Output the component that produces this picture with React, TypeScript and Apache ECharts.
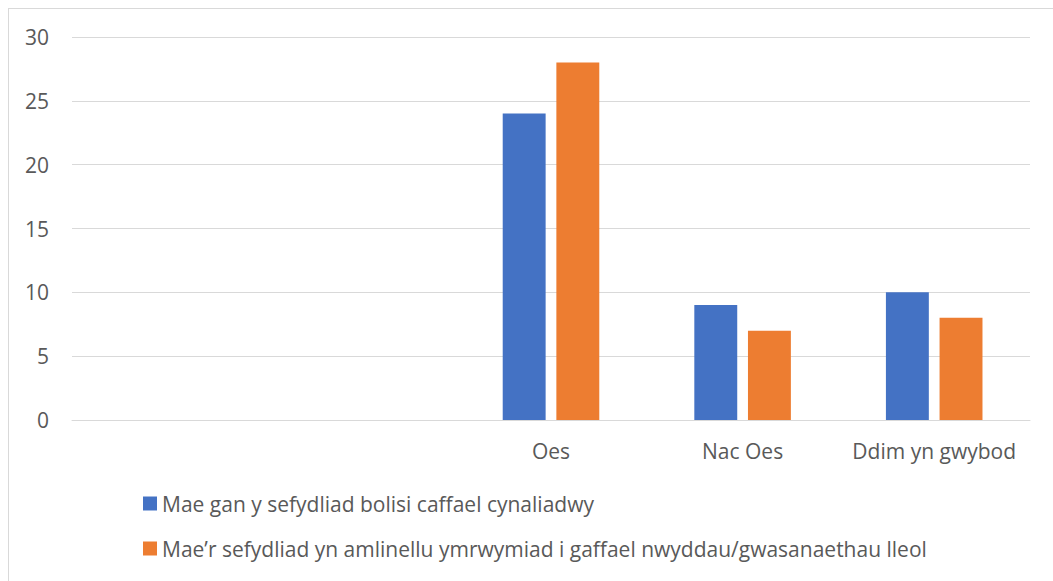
import React, { useEffect, useRef } from "react";
import * as echarts from "echarts";

const categories = ["", "", "Oes", "Nac Oes", "Ddim yn gwybod"];
const seriesNames = [
  "Mae gan y sefydliad bolisi caffael cynaliadwy",
  "Mae’r sefydliad yn amlinellu ymrwymiad i gaffael nwyddau/gwasanaethau lleol",
];
const seriesA = [null, null, 24, 9, 10];
const seriesB = [null, null, 28, 7, 8];
const colors = ["#4472C4", "#ED7D31"];

export default function App() {
  const ref = useRef<HTMLDivElement>(null);
  useEffect(() => {
    if (!ref.current) return;
    const chart = echarts.init(ref.current, null, { renderer: "svg" });
    const font = "'Open Sans', sans-serif";
    chart.setOption({
      animation: false,
      textStyle: { fontFamily: font },
      grid: { left: 63, right: 23, top: 28, bottom: 161, containLabel: false },
      legend: {
        orient: "vertical",
        left: 129,
        top: 479,
        itemWidth: 14,
        itemHeight: 14,
        itemGap: 24,
        icon: "rect",
        textStyle: { fontSize: 21, color: "#595959", fontFamily: font },
        data: seriesNames,
      },
      xAxis: {
        type: "category",
        data: categories,
        axisLine: { lineStyle: { color: "#d9d9d9", width: 1 } },
        axisTick: { show: false },
        axisLabel: { fontSize: 21, color: "#595959", margin: 20, fontFamily: font, interval: 0 },
      },
      yAxis: {
        type: "value",
        min: 0,
        max: 30,
        interval: 5,
        axisLine: { show: false },
        axisTick: { show: false },
        splitLine: { lineStyle: { color: "#d9d9d9", width: 1 } },
        axisLabel: { fontSize: 21, color: "#595959", margin: 23, fontFamily: font },
      },
      series: [
        { name: seriesNames[0], type: "bar", data: seriesA, itemStyle: { color: colors[0] }, barWidth: "22.4%", barGap: "25%" },
        { name: seriesNames[1], type: "bar", data: seriesB, itemStyle: { color: colors[1] }, barWidth: "22.4%", barGap: "25%" },
      ],
    });
    return () => chart.dispose();
  }, []);
  return (
    <div style={{ position: "absolute", left: 8, top: 8, width: 1060, height: 600, border: "1px solid #d9d9d9", boxSizing: "border-box", background: "#fff" }}>
      <div ref={ref} style={{ position: "absolute", left: 0, top: 0, width: 1044, height: 572 }} />
    </div>
  );
}
